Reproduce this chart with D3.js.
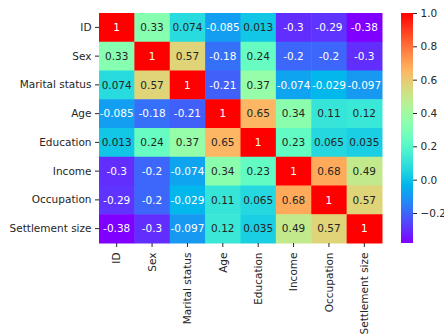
<!DOCTYPE html>
<html>
<head>
<meta charset="utf-8">
<script src="https://cdn.jsdelivr.net/npm/d3@7"></script>
<style>
  body { margin: 0; background: #fff; }
  text { font-family: "DejaVu Sans", sans-serif; }
</style>
</head>
<body>
<div id="chart"></div>
<script>
const labels = ['ID', 'Sex', 'Marital status', 'Age', 'Education', 'Income', 'Occupation', 'Settlement size'];
const rowID = [1, 0.33, 0.074, -0.085, 0.013, -0.3, -0.29, -0.38];
const rowSex = [0.33, 1, 0.57, -0.18, 0.24, -0.2, -0.2, -0.3];
const rowMarital = [0.074, 0.57, 1, -0.21, 0.37, -0.074, -0.029, -0.097];
const rowAge = [-0.085, -0.18, -0.21, 1, 0.65, 0.34, 0.11, 0.12];
const rowEducation = [0.013, 0.24, 0.37, 0.65, 1, 0.23, 0.065, 0.035];
const rowIncome = [-0.3, -0.2, -0.074, 0.34, 0.23, 1, 0.68, 0.49];
const rowOccupation = [-0.29, -0.2, -0.029, 0.11, 0.065, 0.68, 1, 0.57];
const rowSettlement = [-0.38, -0.3, -0.097, 0.12, 0.035, 0.49, 0.57, 1];
const colorTicks = [-0.2, 0.0, 0.2, 0.4, 0.6, 0.8, 1.0];

const matrix = [rowID, rowSex, rowMarital, rowAge, rowEducation, rowIncome, rowOccupation, rowSettlement];
const cells = [];
matrix.forEach((row, i) => row.forEach((v, j) => cells.push({ r: labels[i], c: labels[j], v })));

const vmin = d3.min(cells, d => d.v);
const vmax = d3.max(cells, d => d.v);

// matplotlib "rainbow"
function rainbow(t) {
  const r = Math.abs(2 * t - 0.5);
  const g = Math.sin(Math.PI * t);
  const b = Math.cos(Math.PI * t / 2);
  return d3.rgb(Math.min(1, r) * 255, g * 255, b * 255);
}
const norm = d3.scaleLinear().domain([vmin, vmax]).range([0, 1]).clamp(true);
const color = v => rainbow(norm(v));

function textColor(c) {
  const lin = x => { x /= 255; return x <= 0.03928 ? x / 12.92 : Math.pow((x + 0.055) / 1.055, 2.4); };
  const lum = 0.2126 * lin(c.r) + 0.7152 * lin(c.g) + 0.0722 * lin(c.b);
  return lum > 0.408 ? '#262626' : '#fff';
}

const svg = d3.select('#chart').append('svg').attr('width', 444).attr('height', 335);

const hm = { left: 99, top: 13, width: 283, height: 230 };
const x = d3.scaleBand().domain(labels).range([hm.left, hm.left + hm.width]);
const y = d3.scaleBand().domain(labels).range([hm.top, hm.top + hm.height]);

svg.append('g')
  .selectAll('rect')
  .data(cells)
  .enter()
  .append('rect')
  .attr('x', d => x(d.c))
  .attr('y', d => y(d.r))
  .attr('width', x.bandwidth() + 0.5)
  .attr('height', y.bandwidth() + 0.5)
  .attr('fill', d => color(d.v));

svg.append('g')
  .selectAll('text')
  .data(cells)
  .enter()
  .append('text')
  .attr('x', d => x(d.c) + x.bandwidth() / 2)
  .attr('y', d => y(d.r) + y.bandwidth() / 2)
  .attr('dy', '0.35em')
  .attr('text-anchor', 'middle')
  .style('font-size', '10.5px')
  .attr('fill', d => textColor(color(d.v)))
  .text(d => String(d.v));

const xAxis = svg.append('g')
  .attr('transform', `translate(0,${hm.top + hm.height})`)
  .call(d3.axisBottom(x).tickSize(4).tickPadding(3.5));
xAxis.select('.domain').remove();
xAxis.selectAll('line').attr('stroke', '#262626');
xAxis.selectAll('text')
  .attr('transform', 'rotate(-90)')
  .attr('x', -9.5)
  .attr('y', 0)
  .attr('dy', '0.35em')
  .style('text-anchor', 'end')
  .style('font-size', '10.5px')
  .attr('fill', '#262626');

const yAxis = svg.append('g')
  .attr('transform', `translate(${hm.left},0)`)
  .call(d3.axisLeft(y).tickSize(4).tickPadding(3.5));
yAxis.select('.domain').remove();
yAxis.selectAll('line').attr('stroke', '#262626');
yAxis.selectAll('text').style('font-size', '10.5px').attr('fill', '#262626');

// colorbar
const cb = { left: 401, top: 13, width: 12, height: 230 };
const cy = d3.scaleLinear().domain([vmin, vmax]).range([cb.top + cb.height, cb.top]);
const defs = svg.append('defs');
const grad = defs.append('linearGradient').attr('id', 'cbgrad')
  .attr('x1', 0).attr('y1', 1).attr('x2', 0).attr('y2', 0);
d3.range(0, 1.0001, 0.05).forEach(t => {
  grad.append('stop').attr('offset', t).attr('stop-color', rainbow(t));
});
svg.append('rect')
  .attr('x', cb.left).attr('y', cb.top)
  .attr('width', cb.width).attr('height', cb.height)
  .attr('fill', 'url(#cbgrad)');

const cAxis = svg.append('g')
  .attr('transform', `translate(${cb.left + cb.width},0)`)
  .call(d3.axisRight(cy).tickValues(colorTicks).tickSize(4).tickPadding(3.5)
    .tickFormat(d => d3.format('.1f')(d).replace('-', '\u2212')));
cAxis.select('.domain').remove();
cAxis.selectAll('line').attr('stroke', '#262626');
cAxis.selectAll('text').style('font-size', '10.5px').attr('fill', '#262626');
</script>
</body>
</html>
